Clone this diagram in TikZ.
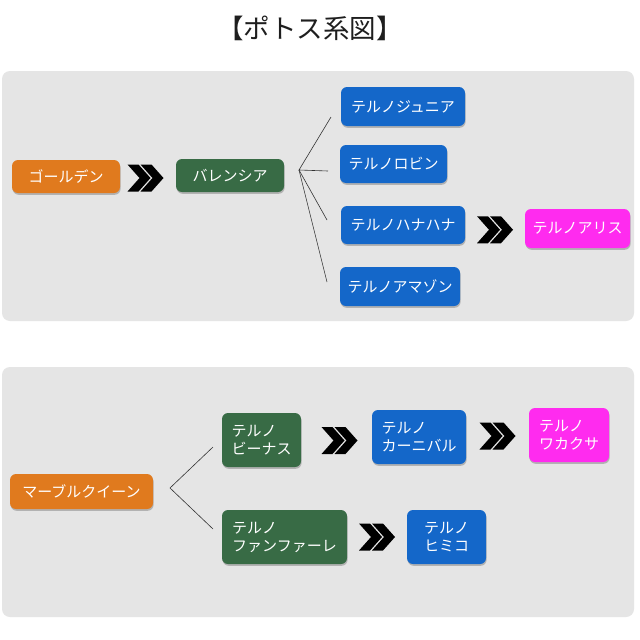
\documentclass[tikz,border=0pt]{standalone}
\usepackage{fontspec}
\setmainfont{Noto Sans CJK JP}
\usetikzlibrary{calc,shadows}
\definecolor{cOrange}{HTML}{E07A1E}
\definecolor{cGreen}{HTML}{386B45}
\definecolor{cBlue}{HTML}{1467C9}
\definecolor{cPink}{HTML}{FF2BEF}
\definecolor{cPanel}{HTML}{E5E5E5}
\definecolor{cTitle}{HTML}{1E1E1E}
\begin{document}
\begin{tikzpicture}[x=1pt,y=-1pt,
  box/.style={rounded corners=6pt, text=white, inner sep=0pt, align=left,
    font=\fontsize{15}{18}\selectfont,
    drop shadow={shadow xshift=0.6pt, shadow yshift=-1.8pt, opacity=0.22, fill=black}},
  sz/.style 2 args={minimum width=#1pt, minimum height=#2pt},
  obox/.style={box, fill=cOrange},
  gbox/.style={box, fill=cGreen},
  bbox/.style={box, fill=cBlue},
  pbox/.style={box, fill=cPink},
  panel/.style={fill=cPanel, rounded corners=8pt},
  fanline/.style={draw=black!80, line width=0.6pt},
  dchev/.pic={
    \foreach \dx in {-18,-5}{
      \fill[black] (\dx,-13.5) -- (\dx+11,-13.5) -- (\dx+23,0) -- (\dx+11,13.5)
        -- (\dx,13.5) -- (\dx+12,0) -- cycle;
    }
  }
]
\fill[white] (0,0) rectangle (640,640);
\useasboundingbox (0,0) rectangle (640,640);

% panels
\fill[panel] (2,71) rectangle (634,321);
\fill[panel] (2,367) rectangle (634,617);

% title
\node[font=\fontsize{26.5}{30}\selectfont, text=cTitle, inner sep=0pt] (title) at (310,28) {【ポトス系図】};

% top panel
\node[obox, sz={108}{33}] (gold) at (66,176.5) {ゴールデン};
\node[gbox, sz={108}{33}] (val) at (230,175.5) {バレンシア};
\node[bbox, sz={124}{39}] (jun) at (403,106.5) {テルノジュニア};
\node[bbox, sz={107}{38}] (rob) at (393.5,164) {テルノロビン};
\node[bbox, sz={124}{38}] (hana) at (403,225) {テルノハナハナ};
\node[bbox, sz={120}{39}] (ama) at (400,286.5) {テルノアマゾン};
\node[pbox, sz={105}{39}] (ali) at (577.5,228.5) {テルノアリス};

\pic at ($(gold.east)!0.5!(val.west)+(-2.5,2)$) {dchev};
\pic at ($(hana.east)!0.5!(ali.west)+(0,3)$) {dchev};

\coordinate (f1) at (299,170);
\coordinate (f1a) at (331,117);
\coordinate (f1b) at (328,171);
\coordinate (f1c) at (327,220);
\coordinate (f1d) at (327,282);
\draw[fanline] (f1a) -- (f1) -- (f1b);
\draw[fanline] (f1) -- (f1c);
\draw[fanline] (f1) -- (f1d);

% bottom panel
\node[obox, sz={143}{35}] (mq) at (81.5,491.5) {マーブルクイーン};
\node[gbox, sz={79}{54}] (ven) at (261.5,440) {テルノ\\ビーナス};
\node[gbox, sz={125}{54}] (fan) at (284.5,537) {テルノ\\ファンファーレ};
\node[bbox, sz={94}{54}] (car) at (419,437) {テルノ\\カーニバル};
\node[pbox, sz={80}{54}] (wak) at (569,435) {テルノ\\ワカクサ};
\node[bbox, sz={79}{54}] (him) at (446.5,537) {テルノ\\ヒミコ};

\pic at ($(ven.east)!0.5!(car.west)+(3,2)$) {dchev};
\pic at ($(car.east)!0.5!(wak.west)$) {dchev};
\pic at ($(fan.east)!0.5!(him.west)$) {dchev};

\coordinate (f2) at (170,488);
\coordinate (f2a) at (213,447);
\coordinate (f2b) at (213,529);
\draw[fanline] (f2a) -- (f2) -- (f2b);
\end{tikzpicture}
\end{document}
